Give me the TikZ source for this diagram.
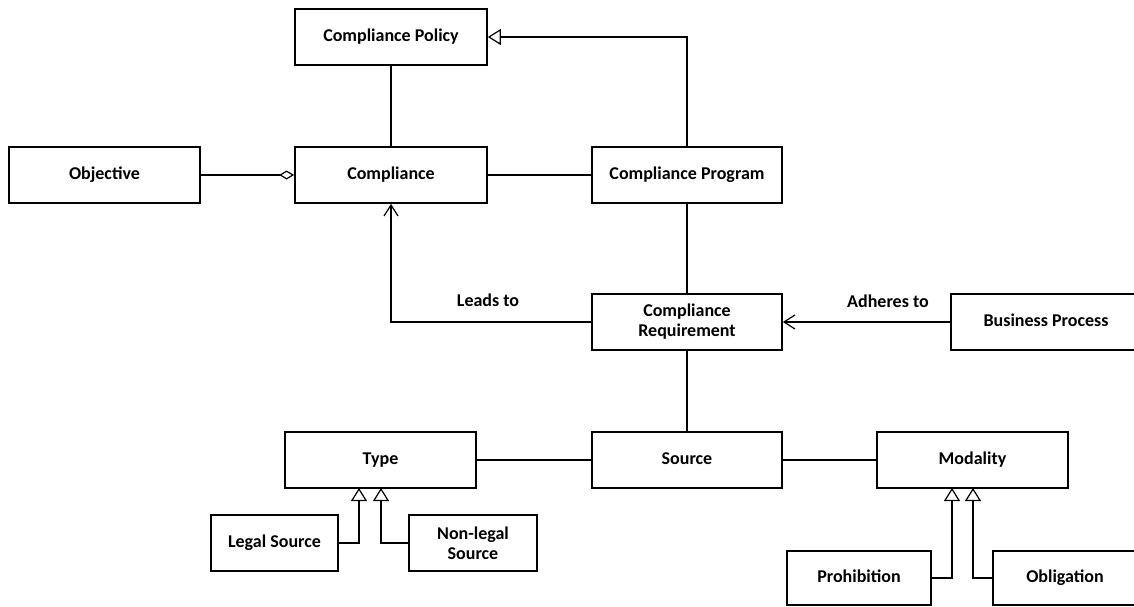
\documentclass[tikz,border=0pt]{standalone}
\usepackage{fontspec}
\setmainfont{Carlito}
\usetikzlibrary{arrows.meta}
\begin{document}
\begin{tikzpicture}[x=1pt,y=-1pt,
  box/.style={draw, line width=1.7pt, minimum height=56pt, inner sep=0pt, align=center,
    font=\fontsize{18}{20}\selectfont\bfseries},
  oneline/.style={box, text height=12pt, text depth=3.5pt},
  lbl/.style={font=\fontsize{18}{20}\selectfont\bfseries, inner sep=0pt},
  conn/.style={line width=1.2pt},
  gen/.style={conn, -{Triangle[open,length=13pt,width=16pt,line width=1.2pt]}},
  agg/.style={conn, -{Diamond[open,length=15pt,width=9pt,line width=1.2pt]}},
  nav/.style={conn, -{Straight Barb[length=11pt,width=14pt,line width=1.2pt]}}]
\useasboundingbox (0,0) rectangle (1134,607);
\node[oneline, minimum width=192pt] (policy) at (391,37) {Compliance Policy};
\node[oneline, minimum width=192pt] (compliance) at (391,175) {Compliance};
\node[oneline, minimum width=191pt] (objective) at (104.5,175) {Objective};
\node[oneline, minimum width=190pt] (program) at (687,175) {Compliance Program};
\node[box, minimum width=190pt] (req) at (687,322) {Compliance\\Requirement};
\node[oneline, minimum width=190pt] (business) at (1046,322) {Business Process};
\node[oneline, minimum width=191pt] (type) at (380.5,460) {Type};
\node[oneline, minimum width=190pt] (source) at (687,460) {Source};
\node[oneline, minimum width=191pt] (modality) at (972.5,460) {Modality};
\node[oneline, minimum width=127pt] (legal) at (274.5,543) {Legal Source};
\node[box, minimum width=128pt] (nonlegal) at (473,543) {Non-legal\\Source};
\node[oneline, minimum width=144pt, minimum height=54pt] (prohib) at (859,578) {Prohibition};
\node[oneline, minimum width=144pt, minimum height=54pt] (oblig) at (1065,578) {Obligation};
\node[lbl] (leads) at (488,300) {Leads to};
\node[lbl] (adheres) at (888,301) {Adheres to};
\coordinate (tl) at (359,488);
\coordinate (tn) at (381,488);
\coordinate (mp) at (952,488);
\coordinate (mo) at (973,488);
\draw[conn] (policy.south) -- (compliance.north);
\draw[gen] (program.north) |- (policy.east);
\draw[agg] (objective.east) -- (compliance.west);
\draw[conn] (compliance.east) -- (program.west);
\draw[conn] (program.south) -- (req.north);
\draw[nav] (req.west) -| (compliance.south);
\draw[nav] (business.west) -- (req.east);
\draw[conn] (req.south) -- (source.north);
\draw[conn] (type.east) -- (source.west);
\draw[conn] (source.east) -- (modality.west);
\draw[gen] (legal.east) -| (tl);
\draw[gen] (nonlegal.west) -| (tn);
\draw[gen] (prohib.east) -| (mp);
\draw[gen] (oblig.west) -| (mo);
\end{tikzpicture}
\end{document}
